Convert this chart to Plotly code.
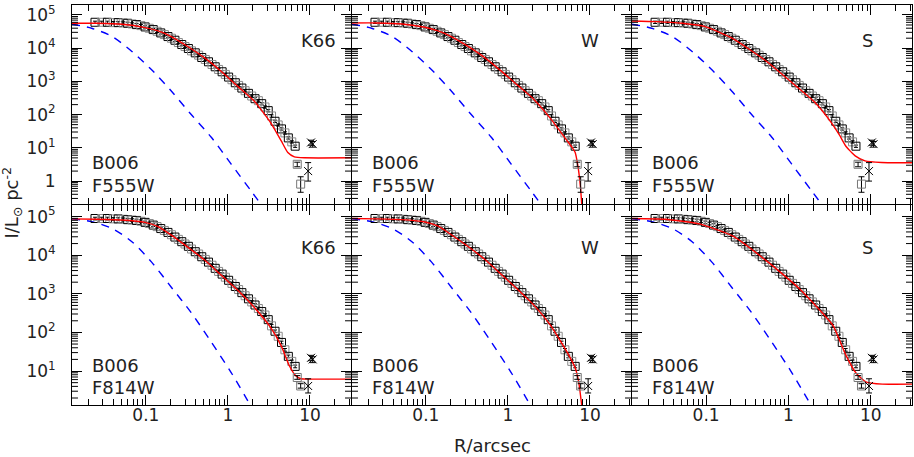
"""B006 surface-brightness profiles (F555W / F814W) with K66, W and S model fits"""
import numpy as np
import plotly.graph_objects as go
from plotly.subplots import make_subplots

# ---- observed profile (radius in arcsec, log10 intensity in L_sun pc^-2) ----
R_obs = [0.024, 0.029, 0.034, 0.040, 0.046, 0.053, 0.060, 0.068, 0.077, 0.087,
         0.098, 0.11, 0.123, 0.137, 0.152, 0.168, 0.186, 0.205, 0.226, 0.249,
         0.274, 0.30, 0.33, 0.36, 0.40, 0.44, 0.48, 0.53, 0.58, 0.64,
         0.70, 0.77, 0.85, 0.93, 1.02, 1.12, 1.23, 1.35, 1.48, 1.62,
         1.78, 1.95, 2.14, 2.35, 2.58, 2.83, 3.1, 3.4, 3.75, 4.1,
         4.5, 4.95, 5.45, 6.0, 6.6]
logI_555 = [4.78, 4.78, 4.78, 4.77, 4.77, 4.76, 4.75, 4.73, 4.71, 4.68,
            4.64, 4.60, 4.56, 4.51, 4.46, 4.41, 4.35, 4.30, 4.24, 4.17,
            4.11, 4.05, 3.99, 3.92, 3.86, 3.79, 3.72, 3.66, 3.59, 3.51,
            3.44, 3.36, 3.29, 3.21, 3.13, 3.05, 2.96, 2.88, 2.80, 2.72,
            2.64, 2.56, 2.48, 2.42, 2.33, 2.23, 2.12, 1.96, 1.80, 1.69,
            1.57, 1.45, 1.30, 1.18, 1.05]
logI_814 = [4.95, 4.95, 4.95, 4.94, 4.94, 4.93, 4.92, 4.91, 4.90, 4.88,
            4.85, 4.82, 4.78, 4.74, 4.69, 4.64, 4.59, 4.53, 4.47, 4.41,
            4.35, 4.29, 4.23, 4.16, 4.09, 4.03, 3.96, 3.89, 3.82, 3.74,
            3.66, 3.58, 3.51, 3.43, 3.35, 3.27, 3.19, 3.11, 3.03, 2.95,
            2.87, 2.79, 2.71, 2.62, 2.54, 2.45, 2.33, 2.17, 2.03, 1.90,
            1.74, 1.55, 1.38, 1.25, 1.12]

# outer points: squares, single cross, cross cluster (value, +err, -err)
out_sq_R = [7.0, 7.7]
out_sq_555 = [3.2, 0.81]; out_sq_555_up = [0.5, 0.54]; out_sq_555_dn = [0.5, 0.35]
out_sq_814 = [6.8, 4.1]; out_sq_814_up = [0.8, 0.6]; out_sq_814_dn = [0.7, 0.5]
cross_R = [9.5]
cross_555 = [2.0]; cross_555_up = [1.6]; cross_555_dn = [1.0]
cross_814 = [4.1]; cross_814_up = [2.2]; cross_814_dn = [1.4]
clus_R = [10.3, 10.8]
clus_555 = [14.5, 13.0]; clus_555_err = [2.5, 2.5]
clus_814 = [22.0, 20.0]; clus_814_err = [3.5, 3.5]

# ---- PSF (blue dashed), log10 R vs log10 I ----
psf_555_logR = [-1.9, -1.66, -1.41, -1.17, -0.93, -0.69, -0.45, -0.20, 0.04, 0.28, 0.40]
psf_555_logI = [4.72, 4.60, 4.35, 3.90, 3.35, 2.71, 2.01, 1.31, 0.51, -0.29, -0.69]
psf_814_logR = [-1.9, -1.66, -1.41, -1.17, -0.93, -0.69, -0.45, -0.20, 0.04, 0.28]
psf_814_logI = [4.94, 4.87, 4.69, 4.35, 3.82, 3.17, 2.52, 1.74, 0.96, 0.09]

# ---- model fits (red), log10 R vs log10 I ----
k66_555_logR = [-1.9, -1.6, -1.29, -1.01, -0.85, -0.69, -0.49, -0.28, -0.08, 0.12, 0.32, 0.52, 0.65, 0.73, 0.81, 0.93, 1.5]
k66_555_logI = [4.75, 4.75, 4.72, 4.62, 4.52, 4.35, 4.05, 3.70, 3.30, 2.85, 2.41, 1.76, 1.21, 0.86, 0.73, 0.70, 0.70]
w_555_logR = [-1.9, -1.6, -1.29, -1.01, -0.85, -0.69, -0.49, -0.28, -0.08, 0.12, 0.32, 0.52, 0.65, 0.72, 0.78, 0.82, 0.85, 0.87, 0.885, 0.9]
w_555_logI = [4.76, 4.76, 4.73, 4.63, 4.52, 4.35, 4.06, 3.71, 3.31, 2.88, 2.45, 1.88, 1.45, 1.22, 1.02, 0.86, 0.5, 0.15, -0.2, -0.7]
s_555_logR = [-1.9, -1.6, -1.29, -1.01, -0.69, -0.28, 0.12, 0.32, 0.52, 0.62, 0.70, 0.81, 0.93, 1.13, 1.5]
s_555_logI = [4.82, 4.80, 4.75, 4.65, 4.31, 3.63, 2.80, 2.37, 1.76, 1.38, 1.04, 0.76, 0.61, 0.56, 0.55]

k66_814_logR = [-1.9, -1.6, -1.29, -1.01, -0.85, -0.69, -0.49, -0.28, -0.08, 0.12, 0.32, 0.52, 0.65, 0.75, 0.83, 0.89, 1.0, 1.5]
k66_814_logI = [4.94, 4.93, 4.91, 4.85, 4.74, 4.52, 4.21, 3.87, 3.48, 3.09, 2.65, 2.13, 1.65, 1.13, 0.87, 0.80, 0.79, 0.79]
w_814_logR = [-1.9, -1.6, -1.29, -1.01, -0.85, -0.69, -0.49, -0.28, -0.08, 0.12, 0.32, 0.52, 0.65, 0.75, 0.82, 0.86, 0.88, 0.9]
w_814_logI = [4.95, 4.94, 4.92, 4.86, 4.75, 4.53, 4.23, 3.89, 3.50, 3.11, 2.70, 2.18, 1.74, 1.38, 1.08, 0.75, 0.45, 0.1]
s_814_logR = [-1.9, -1.5, -1.08, -0.68, -0.27, 0.14, 0.54, 0.62, 0.70, 0.82, 0.94, 1.14, 1.5]
s_814_logI = [4.95, 4.93, 4.81, 4.50, 3.86, 3.12, 2.18, 1.80, 1.40, 0.95, 0.72, 0.66, 0.66]

model_names = ["K66", "W", "S"]
filters = ["F555W", "F814W"]
x_range = [-1.9, 1.5]

rows = [
    dict(logI=logI_555, psf=(psf_555_logR, psf_555_logI),
         models=[(k66_555_logR, k66_555_logI), (w_555_logR, w_555_logI), (s_555_logR, s_555_logI)],
         sq=(out_sq_555, out_sq_555_up, out_sq_555_dn), cr=(cross_555, cross_555_up, cross_555_dn),
         cl=(clus_555, clus_555_err), yrange=[-0.69, 5.3]),
    dict(logI=logI_814, psf=(psf_814_logR, psf_814_logI),
         models=[(k66_814_logR, k66_814_logI), (w_814_logR, w_814_logI), (s_814_logR, s_814_logI)],
         sq=(out_sq_814, out_sq_814_up, out_sq_814_dn), cr=(cross_814, cross_814_up, cross_814_dn),
         cl=(clus_814, clus_814_err), yrange=[0.12, 5.3]),
]

TXT = "#222222"
FONT = "DejaVu Sans"
PANEL_W = 280  # px per panel, used to size the hand-drawn minor ticks

fig = make_subplots(rows=2, cols=3, horizontal_spacing=0, vertical_spacing=0)

sq_colors = ["black" if i % 2 == 0 else "#8a8a8a" for i in range(len(R_obs))]
p10 = lambda a: (10 ** np.array(a)).tolist()

for r, row in enumerate(rows, start=1):
    for c in range(1, 4):
        # PSF
        fig.add_trace(go.Scatter(x=p10(row["psf"][0]), y=p10(row["psf"][1]), mode="lines",
                                 line=dict(color="#0000ff", width=1.4, dash="8px,7px", shape="spline", smoothing=0.8),
                                 hoverinfo="skip"), row=r, col=c)
        # data squares
        fig.add_trace(go.Scatter(x=R_obs, y=p10(row["logI"]), mode="markers",
                                 marker=dict(symbol="square-open", size=8, color=sq_colors, line=dict(width=1)),
                                 error_y=dict(type="percent", value=8, color="black", thickness=1, width=2)),
                      row=r, col=c)
        # model
        mR, mI = row["models"][c - 1]
        fig.add_trace(go.Scatter(x=p10(mR), y=p10(mI), mode="lines",
                                 line=dict(color="#ff0000", width=1.4, shape="spline", smoothing=0.5),
                                 hoverinfo="skip"), row=r, col=c)
        # outer squares
        v, up, dn = row["sq"]
        fig.add_trace(go.Scatter(x=out_sq_R, y=v, mode="markers",
                                 marker=dict(symbol="square-open", size=8, color="#777777", line=dict(width=1)),
                                 error_y=dict(type="data", array=up, arrayminus=dn, color="black", thickness=1, width=3)),
                      row=r, col=c)
        # single cross
        v, up, dn = row["cr"]
        fig.add_trace(go.Scatter(x=cross_R, y=v, mode="markers",
                                 marker=dict(symbol="x-thin-open", size=8, color="black", line=dict(width=1, color="black")),
                                 error_y=dict(type="data", array=up, arrayminus=dn, color="black", thickness=1, width=3)),
                      row=r, col=c)
        # cross cluster
        v, e = row["cl"]
        fig.add_trace(go.Scatter(x=clus_R, y=v, mode="markers",
                                 marker=dict(symbol="x-thin-open", size=8, color="black", line=dict(width=1, color="black")),
                                 error_y=dict(type="data", array=e, color="black", thickness=1, width=3)),
                      row=r, col=c)
        # y minor ticks on both sides (hand drawn)
        dl = 6 * (x_range[1] - x_range[0]) / PANEL_W
        tx, ty = [], []
        for d in range(-1, 6):
            for k in range(2, 10):
                yv_ = k * 10.0 ** d
                if not (row["yrange"][0] < np.log10(yv_) < row["yrange"][1]):
                    continue
                tx += [10 ** x_range[0], 10 ** (x_range[0] + dl), None, 10 ** (x_range[1] - dl), 10 ** x_range[1], None]
                ty += [yv_, yv_, None, yv_, yv_, None]
        fig.add_trace(go.Scatter(x=tx, y=ty, mode="lines", line=dict(color="black", width=1),
                                 hoverinfo="skip", cliponaxis=False), row=r, col=c)

axis_common = dict(type="log", showline=True, linecolor="black", linewidth=1, mirror="allticks",
                   ticks="inside", tickwidth=1, tickcolor="black", showgrid=False, zeroline=False,
                   automargin=False, tickfont=dict(family=FONT, size=17, color=TXT))

# panel domains nudged by 1px so neighbouring frame lines coincide
xdoms = [[0, 279 / 840], [280 / 840, 559 / 840], [560 / 840, 1]]
ydoms = [[201 / 400, 1], [0, 200 / 400]]

for r, row in enumerate(rows, start=1):
    for c in range(1, 4):
        fig.update_xaxes(range=x_range, domain=xdoms[c - 1], tickvals=[0.1, 1, 10], ticktext=["0.1", "1", "10"],
                         ticklen=10, showticklabels=(r == 2), ticklabelstandoff=-5,
                         minor=dict(ticks="inside", ticklen=6, tickcolor="black", tickwidth=1,
                                    dtick="D1", showgrid=False),
                         row=r, col=c, **axis_common)
        yv = [1, 10, 100, 1e3, 1e4, 1e5]
        yt = ["1", "10<sup>1</sup>", "10<sup>2</sup>", "10<sup>3</sup>", "10<sup>4</sup>", "10<sup>5</sup>"]
        fig.update_yaxes(range=row["yrange"], domain=ydoms[r - 1], tickvals=yv, ticktext=yt, ticklen=10,
                         showticklabels=(c == 1), ticklabelstandoff=12,
                         row=r, col=c, **axis_common)

# panel labels
ann = []
for r in (1, 2):
    for c in range(1, 4):
        idx = (r - 1) * 3 + c
        xd = "x domain" if idx == 1 else f"x{idx} domain"
        yd = "y domain" if idx == 1 else f"y{idx} domain"
        f = dict(family=FONT, size=18, color=TXT)
        ann.append(dict(text=model_names[c - 1], xref=xd, yref=yd, x=0.814, y=0.82 if r == 1 else 0.79,
                        xanchor="left", yanchor="middle", showarrow=False, font=f))
        ann.append(dict(text="B006", xref=xd, yref=yd, x=0.064, y=0.21 if r == 1 else 0.2,
                        xanchor="left", yanchor="middle", showarrow=False, font=f))
        ann.append(dict(text=filters[r - 1], xref=xd, yref=yd, x=0.064, y=0.095 if r == 1 else 0.09,
                        xanchor="left", yanchor="middle", showarrow=False, font=f))

ann.append(dict(text="R/arcsec", xref="paper", yref="paper", x=0.5, y=-0.1, xanchor="center", yanchor="middle",
                showarrow=False, font=dict(family=FONT, size=18, color=TXT)))
ann.append(dict(text="I/L<sub>⊙</sub> pc<sup>-2</sup>", xref="paper", yref="paper", x=-0.072, y=0.505,
                xanchor="center", yanchor="middle", textangle=-90, showarrow=False,
                font=dict(family=FONT, size=18, color=TXT)))

fig.update_layout(template="none", width=914, height=457, margin=dict(l=72, r=2, t=5, b=52, autoexpand=False),
                  paper_bgcolor="white", plot_bgcolor="white", showlegend=False, annotations=ann)

# page body has a default 8px margin; drop it so the figure sits at the window origin
fig.write_html("out.html", config={"displayModeBar": False},
               post_script="document.body.style.margin='0';")
